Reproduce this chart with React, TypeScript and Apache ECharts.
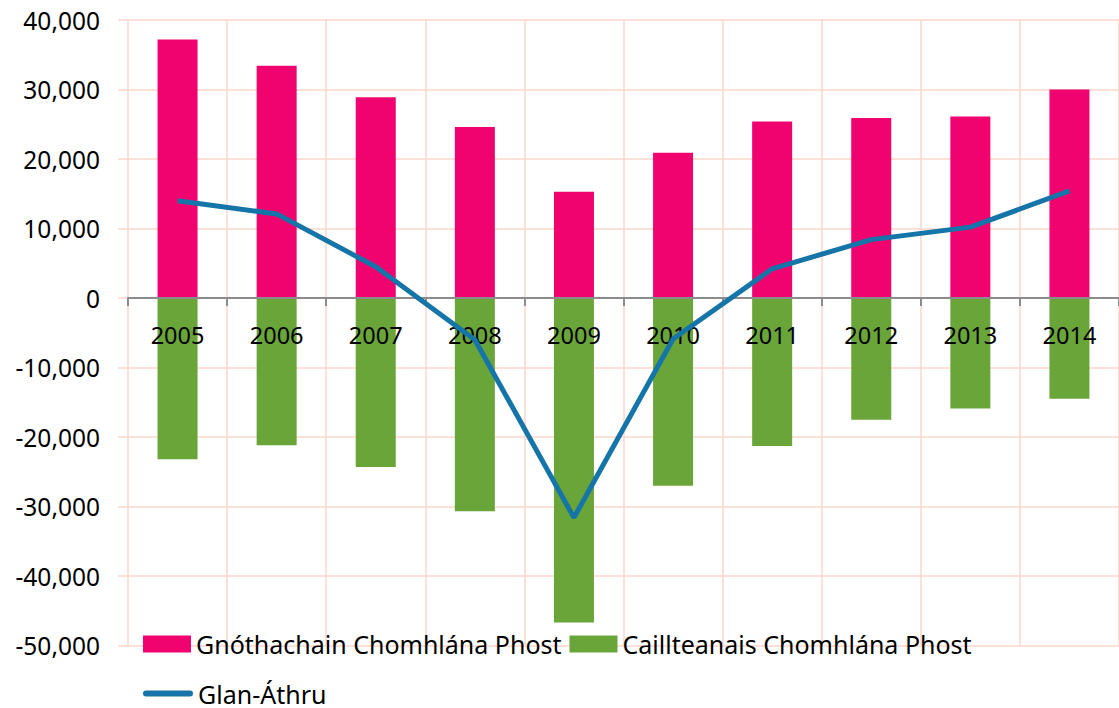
import React, { useEffect, useRef } from "react";
import * as echarts from "echarts";

const years = ["2005", "2006", "2007", "2008", "2009", "2010", "2011", "2012", "2013", "2014"];
const gains = [37200, 33400, 28900, 24600, 15300, 20900, 25400, 25900, 26100, 30000];
const losses = [-23200, -21200, -24300, -30700, -46700, -27000, -21300, -17500, -15900, -14500];
const net = [14000, 12100, 4500, -6000, -31600, -5900, 4200, 8400, 10200, 15400];
const seriesNames = ["Gnóthachain Chomhlána Phost", "Caillteanais Chomhlána Phost", "Glan-Áthru"];

const FONT = "Noto Sans";
const FS = 25;

export default function App() {
  const ref = useRef<HTMLDivElement>(null);
  useEffect(() => {
    if (!ref.current) return;
    const chart = echarts.init(ref.current, null, { renderer: "svg" });
    chart.setOption({
      animation: false,
      backgroundColor: "#ffffff",
      textStyle: { fontFamily: FONT },
      grid: { left: 128, top: 20, right: -5, bottom: 62.5, containLabel: false },
      legend: [
        {
          data: [seriesNames[0], seriesNames[1]],
          left: 143,
          top: 631.5,
          padding: 0,
          orient: "horizontal",
          itemWidth: 48,
          itemHeight: 17,
          itemGap: 8,
          icon: "rect",
          textStyle: { fontFamily: FONT, fontSize: FS, lineHeight: 25, color: "#000" },
        },
        {
          data: [seriesNames[2]],
          left: 143,
          top: 681,
          padding: 0,
          itemWidth: 50,
          itemHeight: 6,
          icon: "path://M0,3 A3,3 0 0 1 3,0 L47,0 A3,3 0 0 1 47,6 L3,6 A3,3 0 0 1 0,3 Z",
          textStyle: { fontFamily: FONT, fontSize: FS, lineHeight: 25, color: "#000" },
        },
      ],
      xAxis: {
        type: "category",
        data: years,
        z: 3,
        position: "bottom",
        offset: -347.5,
        boundaryGap: true,
        axisLine: { show: true, onZero: false, lineStyle: { color: "#8c8c8c", width: 2 } },
        axisTick: { show: true, length: 8, lineStyle: { color: "#8c8c8c", width: 2 } },
        axisLabel: { fontFamily: FONT, fontSize: 23.5, color: "#000", margin: 25 },
        splitLine: { show: true, lineStyle: { color: "#fdd6ca", width: 1.5 } },
      },
      yAxis: {
        type: "value",
        min: -50000,
        max: 40000,
        interval: 10000,
        axisLine: { show: false },
        axisTick: { show: true, length: 10, lineStyle: { color: "#fdd6ca", width: 1.5 } },
        axisLabel: {
          fontFamily: FONT,
          fontSize: 24.5,
          color: "#000",
          margin: 28,
          formatter: (v: number) => v.toLocaleString("en-US"),
        },
        splitLine: { show: true, lineStyle: { color: "#fdd6ca", width: 1.5 } },
      },
      series: [
        {
          name: seriesNames[0],
          type: "bar",
          stack: "total",
          barWidth: 40,
          data: gains,
          itemStyle: { color: "#f0036e" },
          z: 2,
        },
        {
          name: seriesNames[1],
          type: "bar",
          stack: "total",
          barWidth: 40,
          data: losses,
          itemStyle: { color: "#6aa539" },
          z: 2,
        },
        {
          name: seriesNames[2],
          type: "line",
          data: net,
          symbol: "none",
          lineStyle: { color: "#1575a8", width: 5 },
          itemStyle: { color: "#1575a8" },
          z: 5,
        },
      ],
    });
    return () => chart.dispose();
  }, []);
  return (
    <div
      ref={ref}
      style={{ position: "absolute", left: 0, top: 0, width: 1119, height: 708, overflow: "hidden" }}
    />
  );
}
